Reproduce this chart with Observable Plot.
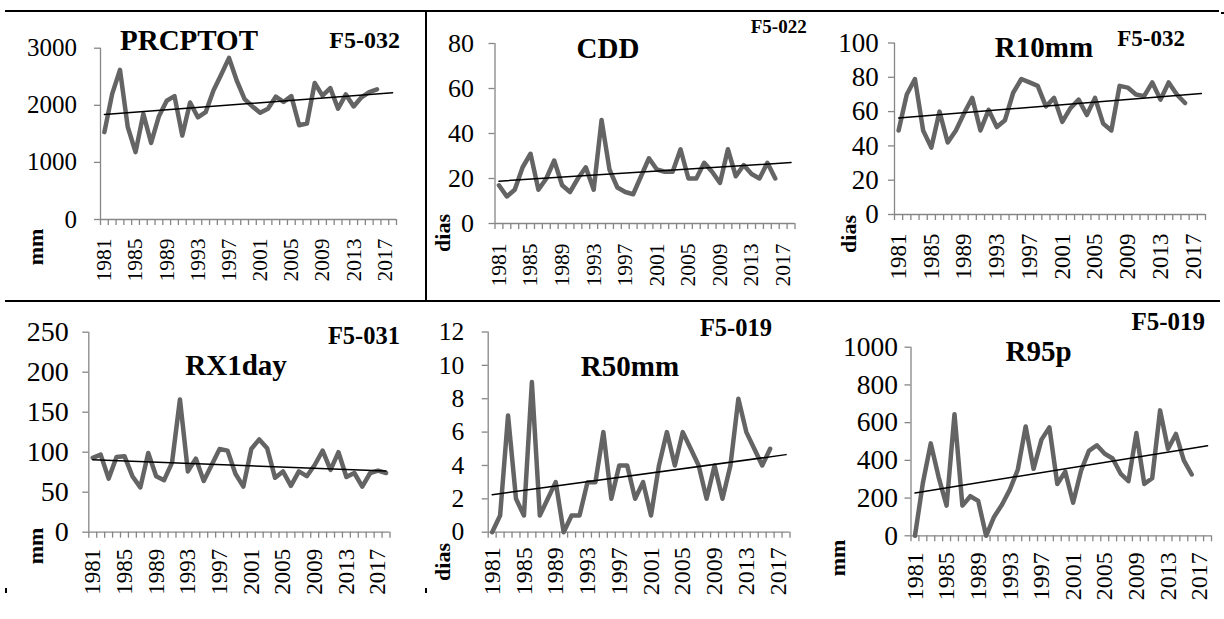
<!DOCTYPE html>
<html><head><meta charset="utf-8">
<script src="https://cdn.jsdelivr.net/npm/d3@7"></script>
<script src="https://cdn.jsdelivr.net/npm/@observablehq/plot@0.6"></script>
<style>
html,body{margin:0;padding:0;background:#fff;}
#page{position:relative;width:1224px;height:619px;overflow:hidden;font-family:"Liberation Serif","Times New Roman",serif;color:#000;}
.panel{position:absolute;}
.bd{position:absolute;background:#000;z-index:5;}
.t{position:absolute;white-space:nowrap;line-height:1;font-weight:bold;z-index:4;}
</style></head><body><div id="page"></div>
<script>
// ---- data ----
const years = [1981,1982,1983,1984,1985,1986,1987,1988,1989,1990,1991,1992,1993,1994,1995,1996,1997,1998,1999,2000,2001,2002,2003,2004,2005,2006,2007,2008,2009,2010,2011,2012,2013,2014,2015,2016,2017,2018];
const labelYears = [1981,1985,1989,1993,1997,2001,2005,2009,2013,2017];

const prcptot = [1530,2200,2620,1620,1180,1850,1340,1810,2080,2160,1470,2050,1790,1880,2260,2540,2830,2430,2110,1980,1870,1940,2150,2060,2160,1650,1680,2390,2170,2300,1940,2190,1980,2140,2230,2280];
const cdd = [17,12,15,25,31,15,20,28,17,14,20,25,15,46,24,16,14,13,21,29,24,23,23,33,20,20,27,23,18,33,21,26,22,20,27,20];
const r10mm = [49,70,79,49,39,60,42,49,59,68,49,61,51,55,71,79,77,75,63,68,54,62,67,58,68,53,49,75,74,70,69,77,67,77,70,65];
const rx1day = [93,97,67,94,95,70,56,99,70,65,87,166,76,92,64,84,104,102,73,57,104,116,105,68,76,58,76,70,84,102,78,100,69,74,57,74,77,74];
const r50mm = [0,1,7,2,1,9,1,2,3,0,1,1,3,3,6,2,4,4,2,3,1,4,6,4,6,5,4,2,4,2,4,8,6,5,4,5];
const r95p = [0,280,490,310,160,645,160,210,185,0,100,165,245,350,580,355,510,575,275,340,175,345,450,480,435,410,330,290,545,275,305,665,460,540,400,325];

// linear trend line values at 1981 and 2018
const trendPrcptot = [1840, 2220];
const trendCdd = [18.8, 27.1];
const trendR10mm = [56.3, 70.6];
const trendRx1day = [90.5, 76.5];
const trendR50mm = [2.25, 4.65];
const trendR95p = [227, 478];

const ticksPrcptot = [0,1000,2000,3000];
const ticksCdd = [0,20,40,60,80];
const ticksR10mm = [0,20,40,60,80,100];
const ticksRx1day = [0,50,100,150,200,250];
const ticksR50mm = [0,2,4,6,8,10,12];
const ticksR95p = [0,200,400,600,800,1000];

const titles = ["PRCPTOT","CDD","R10mm","RX1day","R50mm","R95p"];
const codes = ["F5-032","F5-022","F5-032","F5-031","F5-019","F5-019"];
const units = ["mm","dias","dias","mm","dias","mm"];

// ---- layout ----
const gray = "#868686";
const lineColor = "#646464";
const FONT = '"Liberation Serif","Times New Roman",serif';

const panels = [
  {values: prcptot, trend: trendPrcptot, yTicks: ticksPrcptot,
   box: {l: 0, t: 12, w: 425, h: 288}, m: [35.7, 29, 81, 100], yFont: 25, yPad: 17.5, xFont: 21.5, xPad: 19,
   title: [189, 50], code: [400, 48.3, 24], unit: [43.3, 246.5, 22]},
  {values: cdd, trend: trendCdd, yTicks: ticksCdd,
   box: {l: 427, t: 12, w: 383, h: 288}, m: [31, 15.5, 77, 67.5], yFont: 26, yPad: 15, xFont: 21.5, xPad: 20,
   title: [608, 58], code: [806.7, 33.3, 19], unit: [450, 233, 22]},
  {values: r10mm, trend: trendR10mm, yTicks: ticksR10mm,
   box: {l: 810, t: 12, w: 414, h: 288}, m: [30.5, 19, 86, 84], yFont: 27, yPad: 9.7, xFont: 23, xPad: 19,
   title: [1044, 57], code: [1185, 46.7, 23], unit: [856.5, 234, 22]},
  {values: rx1day, trend: trendRx1day, yTicks: ticksRx1day,
   box: {l: 0, t: 302, w: 425, h: 317}, m: [29.7, 35.5, 87.3, 88.3], yFont: 28, yPad: 14, xFont: 23, xPad: 16.6,
   title: [236, 375], code: [400, 345, 24.5], unit: [43, 545.5, 22]},
  {values: r50mm, trend: trendR50mm, yTicks: ticksR50mm,
   box: {l: 427, t: 302, w: 383, h: 317}, m: [29.5, 20.5, 87.3, 60.7], yFont: 25.5, yPad: 18, xFont: 24, xPad: 15,
   title: [630, 376.5], code: [772, 336.7, 24.5], unit: [450, 562, 22]},
  {values: r95p, trend: trendR95p, yTicks: ticksR95p,
   box: {l: 810, t: 302, w: 414, h: 317}, m: [44.7, 13, 83.7, 100.5], yFont: 27.5, yPad: 7, xFont: 24, xPad: 16.4,
   title: [1038.5, 361.5], code: [1205, 330, 25], unit: [845, 557.5, 22]}
];

const page = document.getElementById("page");
const boundaries = years.map(y => y - 0.5).concat([years[years.length - 1] + 0.5]);

function addText(txt, css) {
  const d = document.createElement("div");
  d.className = "t";
  d.textContent = txt;
  Object.assign(d.style, css);
  page.appendChild(d);
  return d;
}

panels.forEach((p, k) => {
  const data = p.values.map((v, i) => ({year: years[i], value: v}));
  const trend = [{year: years[0], value: p.trend[0]}, {year: years[years.length - 1], value: p.trend[1]}];
  const chart = Plot.plot({
    width: p.box.w, height: p.box.h,
    marginTop: p.m[0], marginRight: p.m[1], marginBottom: p.m[2], marginLeft: p.m[3],
    style: {fontFamily: FONT, fontSize: p.xFont + "px", background: "transparent", overflow: "visible", color: "black"},
    x: {type: "linear", domain: [boundaries[0], boundaries[boundaries.length - 1]], axis: null},
    y: {type: "linear", domain: [0, p.yTicks[p.yTicks.length - 1]], axis: null},
    marks: [
      Plot.axisY({ticks: p.yTicks, tickSize: 6, tickPadding: p.yPad, tickFormat: d => String(d),
        fontSize: p.yFont, stroke: gray, strokeWidth: 1.3, fill: "black", label: null}),
      Plot.axisX({ticks: boundaries, tickSize: 6, tickFormat: () => "", stroke: gray, strokeWidth: 1.3, label: null}),
      Plot.axisX({ticks: labelYears, tickSize: 0, tickPadding: p.xPad, tickRotate: -90,
        textAnchor: "end", lineAnchor: "middle", tickFormat: d => String(d),
        fontSize: p.xFont, fill: "black", label: null}),
      Plot.ruleX([boundaries[0]], {stroke: gray, strokeWidth: 1.3}),
      Plot.ruleY([0], {stroke: gray, strokeWidth: 1.3}),
      Plot.line(data, {x: "year", y: "value", stroke: lineColor, strokeWidth: 4.5}),
      Plot.line(trend, {x: "year", y: "value", stroke: "black", strokeWidth: 1.5})
    ]
  });
  const wrap = document.createElement("div");
  wrap.className = "panel";
  Object.assign(wrap.style, {left: p.box.l + "px", top: p.box.t + "px", width: p.box.w + "px", height: p.box.h + "px"});
  wrap.appendChild(chart);
  page.appendChild(wrap);

  const tfs = 29;
  addText(titles[k], {left: p.title[0] + "px", top: (p.title[1] - 0.8375 * tfs) + "px",
    fontSize: tfs + "px", transform: "translateX(-50%)"});
  const cfs = p.code[2];
  addText(codes[k], {right: (1224 - p.code[0]) + "px", top: (p.code[1] - 0.8375 * cfs) + "px",
    fontSize: cfs + "px"});
  const ufs = p.unit[2];
  addText(units[k], {left: (p.unit[0] - 0.3375 * ufs) + "px", top: p.unit[1] + "px",
    fontSize: ufs + "px", transform: "translate(-50%,-50%) rotate(-90deg)"});
});

// table borders
[[5, 10, 1214, 2], [425, 10, 2, 291], [5, 300, 1215, 2], [1221, 12, 3, 2], [5, 588, 2, 5], [425, 588, 2, 5]]
  .forEach(([l, t, w, h]) => {
    const d = document.createElement("div");
    d.className = "bd";
    Object.assign(d.style, {left: l + "px", top: t + "px", width: w + "px", height: h + "px"});
    page.appendChild(d);
  });
</script>
</body></html>
